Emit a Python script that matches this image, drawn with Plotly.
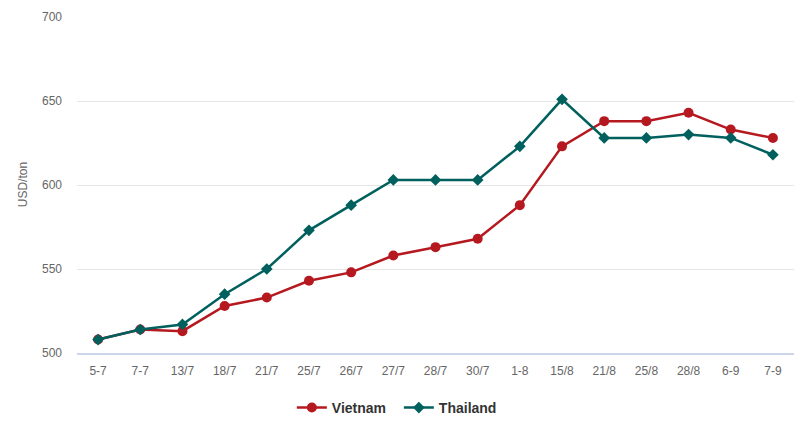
import plotly.graph_objects as go

categories = ["5-7", "7-7", "13/7", "18/7", "21/7", "25/7", "26/7", "27/7", "28/7", "30/7",
              "1-8", "15/8", "21/8", "25/8", "28/8", "6-9", "7-9"]
vietnam = [508, 514, 513, 528, 533, 543, 548, 558, 563, 568, 588, 623, 638, 638, 643, 633, 628]
thailand = [508, 514, 517, 535, 550, 573, 588, 603, 603, 603, 623, 651, 628, 628, 630, 628, 618]

fig = go.Figure()
fig.add_trace(go.Scatter(
    x=categories, y=vietnam, name="Vietnam", mode="lines+markers",
    line=dict(color="#b5191f", width=2.5),
    marker=dict(symbol="circle", size=10, color="#b5191f"),
))
fig.add_trace(go.Scatter(
    x=categories, y=thailand, name="Thailand", mode="lines+markers",
    line=dict(color="#00605e", width=2.5),
    marker=dict(symbol="diamond", size=9, color="#00605e"),
))

fig.add_annotation(text="USD/ton", xref="paper", yref="paper", x=-0.075, y=0.5,
                   xanchor="center", yanchor="middle", textangle=-90, showarrow=False,
                   font=dict(size=12, color="#666666"))

fig.update_layout(
    width=811, height=425,
    margin=dict(l=69, r=25, t=9, b=80, autoexpand=False),
    paper_bgcolor="white", plot_bgcolor="white",
    font=dict(family="Arial, Liberation Sans, sans-serif", size=12, color="#666666"),
    showlegend=True,
    legend=dict(orientation="h", x=0.35, xanchor="left", xref="container",
                y=0.059, yanchor="middle", yref="container",
                font=dict(size=14, color="#333333", family="Arial, Liberation Sans, sans-serif", weight="bold"),
                entrywidth=62, traceorder="normal"),
    xaxis=dict(type="category", range=[-0.5, 16.5], showgrid=False,
               showline=True, linecolor="#ccd6eb", linewidth=1.5, automargin=False,
               ticks="", ticklabelstandoff=6,
               tickfont=dict(size=12, color="#666666"), fixedrange=True),
    yaxis=dict(range=[500, 700], tickvals=[500, 550, 600, 650, 700], automargin=False,
               showgrid=True, gridcolor="#e6e6e6", gridwidth=1, zeroline=False,
               showline=False, ticks="", ticklabelstandoff=14,
               tickfont=dict(size=12, color="#666666")),
)
fig.write_html("out.html")
